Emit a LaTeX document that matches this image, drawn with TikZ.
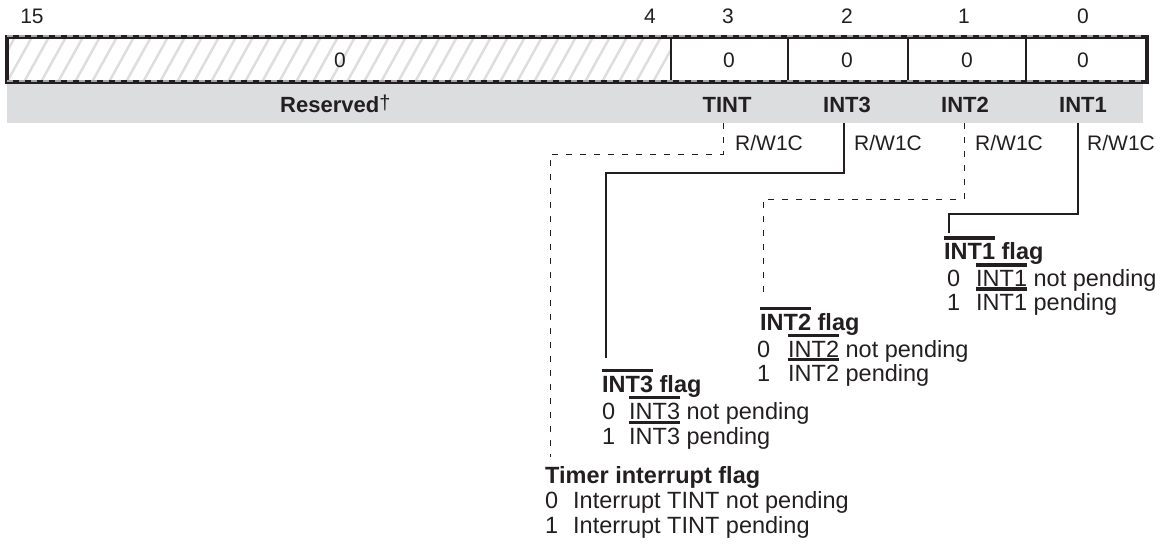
\documentclass[tikz,border=0pt]{standalone}
\usepackage{fontspec}
\setmainfont{Liberation Sans}
\definecolor{band}{HTML}{DCDDDE}
\definecolor{ink}{HTML}{231F20}
\definecolor{hatchc}{HTML}{DEDEDE}
\newsavebox\ovlbox
\newcommand\ovl[1]{\sbox\ovlbox{#1}\rlap{\rule[\dimexpr\ht\ovlbox+3.2pt\relax]{\wd\ovlbox}{3.4pt}}\usebox\ovlbox}
\begin{document}
\begin{tikzpicture}[x=1pt,y=-1pt,
  bitnum/.style={font=\fontsize{21}{24}\selectfont, text=ink, anchor=base, inner sep=0pt},
  fname/.style={font=\bfseries\fontsize{22}{26}\selectfont, text=ink, anchor=base, inner sep=0pt},
  acc/.style={font=\fontsize{21}{24}\selectfont, text=ink, anchor=base west, inner sep=0pt},
  ttl/.style={font=\bfseries\fontsize{23.5}{28}\selectfont, text=ink, anchor=base west, inner sep=0pt},
  desc/.style={font=\fontsize{23.5}{28}\selectfont, text=ink, anchor=base west, inner sep=0pt},
  conn/.style={line width=1.2pt, draw=ink},
  dconn/.style={line width=1pt, draw=ink, dash pattern=on 6pt off 8pt}]
\useasboundingbox (0,0) rectangle (1168,549);
% gray band
\fill[band] (7,82) rectangle (1143,123);
% hatch in reserved field
\begin{scope}
\clip (7,37) rectangle (671,82);
\foreach \i in {-2,...,42}{
  \draw[hatchc, line width=2.5pt] ({7+\i*17},82) -- ({7+\i*17+25},37);
}
\end{scope}
% dividers
\foreach \x in {671,788,908,1026}{
  \draw[ink, line width=1.5pt] (\x,37) -- (\x,82);
}
% register border
\draw[ink, line width=3.5pt] (7,37) rectangle (1147,82);
\draw[gray!70, line width=1.3pt, dash pattern=on 6pt off 6pt] (7,36) -- (1147,36);
\draw[gray!70, line width=1.3pt, dash pattern=on 6pt off 6pt] (7,81) -- (1147,81);
% bit numbers
\node[bitnum] (b15) at (32,23) {15};
\node[bitnum] (b4) at (650,23) {4};
\node[bitnum] (b3) at (728,23) {3};
\node[bitnum] (b2) at (847,23) {2};
\node[bitnum] (b1) at (964,23) {1};
\node[bitnum] (b0) at (1083,23) {0};
% field values
\node[bitnum] (vres) at (340,67) {0};
\node[bitnum] (v3) at (729,67) {0};
\node[bitnum] (v2) at (847,67) {0};
\node[bitnum] (v1) at (967,67) {0};
\node[bitnum] (v0) at (1083,67) {0};
% field names
\node[fname, anchor=base west] (fres) at (280,112) {Reserved{\mdseries\fontsize{20}{22}\selectfont\raisebox{3pt}{†}}};
\node[fname] (ftint) at (727,112) {TINT};
\node[fname] (fint3) at (847,112) {INT3};
\node[fname] (fint2) at (965,112) {INT2};
\node[fname] (fint1) at (1083,112) {INT1};
% access
\node[acc] (a3) at (735,150) {R/W1C};
\node[acc] (a2) at (854,150) {R/W1C};
\node[acc] (a1) at (975,150) {R/W1C};
\node[acc] (a0) at (1087,150) {R/W1C};
% connector endpoints
\coordinate (tintS) at (723,123);
\coordinate (tintE) at (550,457);
\coordinate (int3S) at (844,123);
\coordinate (int3E) at (606,358);
\coordinate (int2S) at (964,123);
\coordinate (int2E) at (763,294);
\coordinate (int1S) at (1078,123);
\coordinate (int1E) at (949,233);
\draw[dconn] (tintS) -- ++(0,31) -| (tintE);
\draw[conn] (int3S) -- ++(0,50) -| (int3E);
\draw[dconn] (int2S) -- ++(0,76) -| (int2E);
\draw[conn] (int1S) -- ++(0,91) -| (int1E);
% INT1 description
\node[ttl] (t1) at (944,259) {\ovl{INT1} flag};
\node[desc] (t1d0) at (947,286) {0};
\node[desc] (t1x0) at (976,286) {\ovl{INT1} not pending};
\node[desc] (t1d1) at (947,310) {1};
\node[desc] (t1x1) at (976,310) {\ovl{INT1} pending};
% INT2 description
\node[ttl] (t2) at (760,330) {\ovl{INT2} flag};
\node[desc] (t2d0) at (757,357) {0};
\node[desc] (t2x0) at (788,357) {\ovl{INT2} not pending};
\node[desc] (t2d1) at (757,381) {1};
\node[desc] (t2x1) at (788,381) {\ovl{INT2} pending};
% INT3 description
\node[ttl] (t3) at (602,392) {\ovl{INT3} flag};
\node[desc] (t3d0) at (602,419) {0};
\node[desc] (t3x0) at (629,419) {\ovl{INT3} not pending};
\node[desc] (t3d1) at (602,444) {1};
\node[desc] (t3x1) at (629,444) {\ovl{INT3} pending};
% Timer description
\node[ttl] (tt) at (545,483) {Timer interrupt flag};
\node[desc] (ttd0) at (545,508) {0};
\node[desc] (ttx0) at (573,508) {Interrupt TINT not pending};
\node[desc] (ttd1) at (545,533) {1};
\node[desc] (ttx1) at (573,533) {Interrupt TINT pending};
\end{tikzpicture}
\end{document}
